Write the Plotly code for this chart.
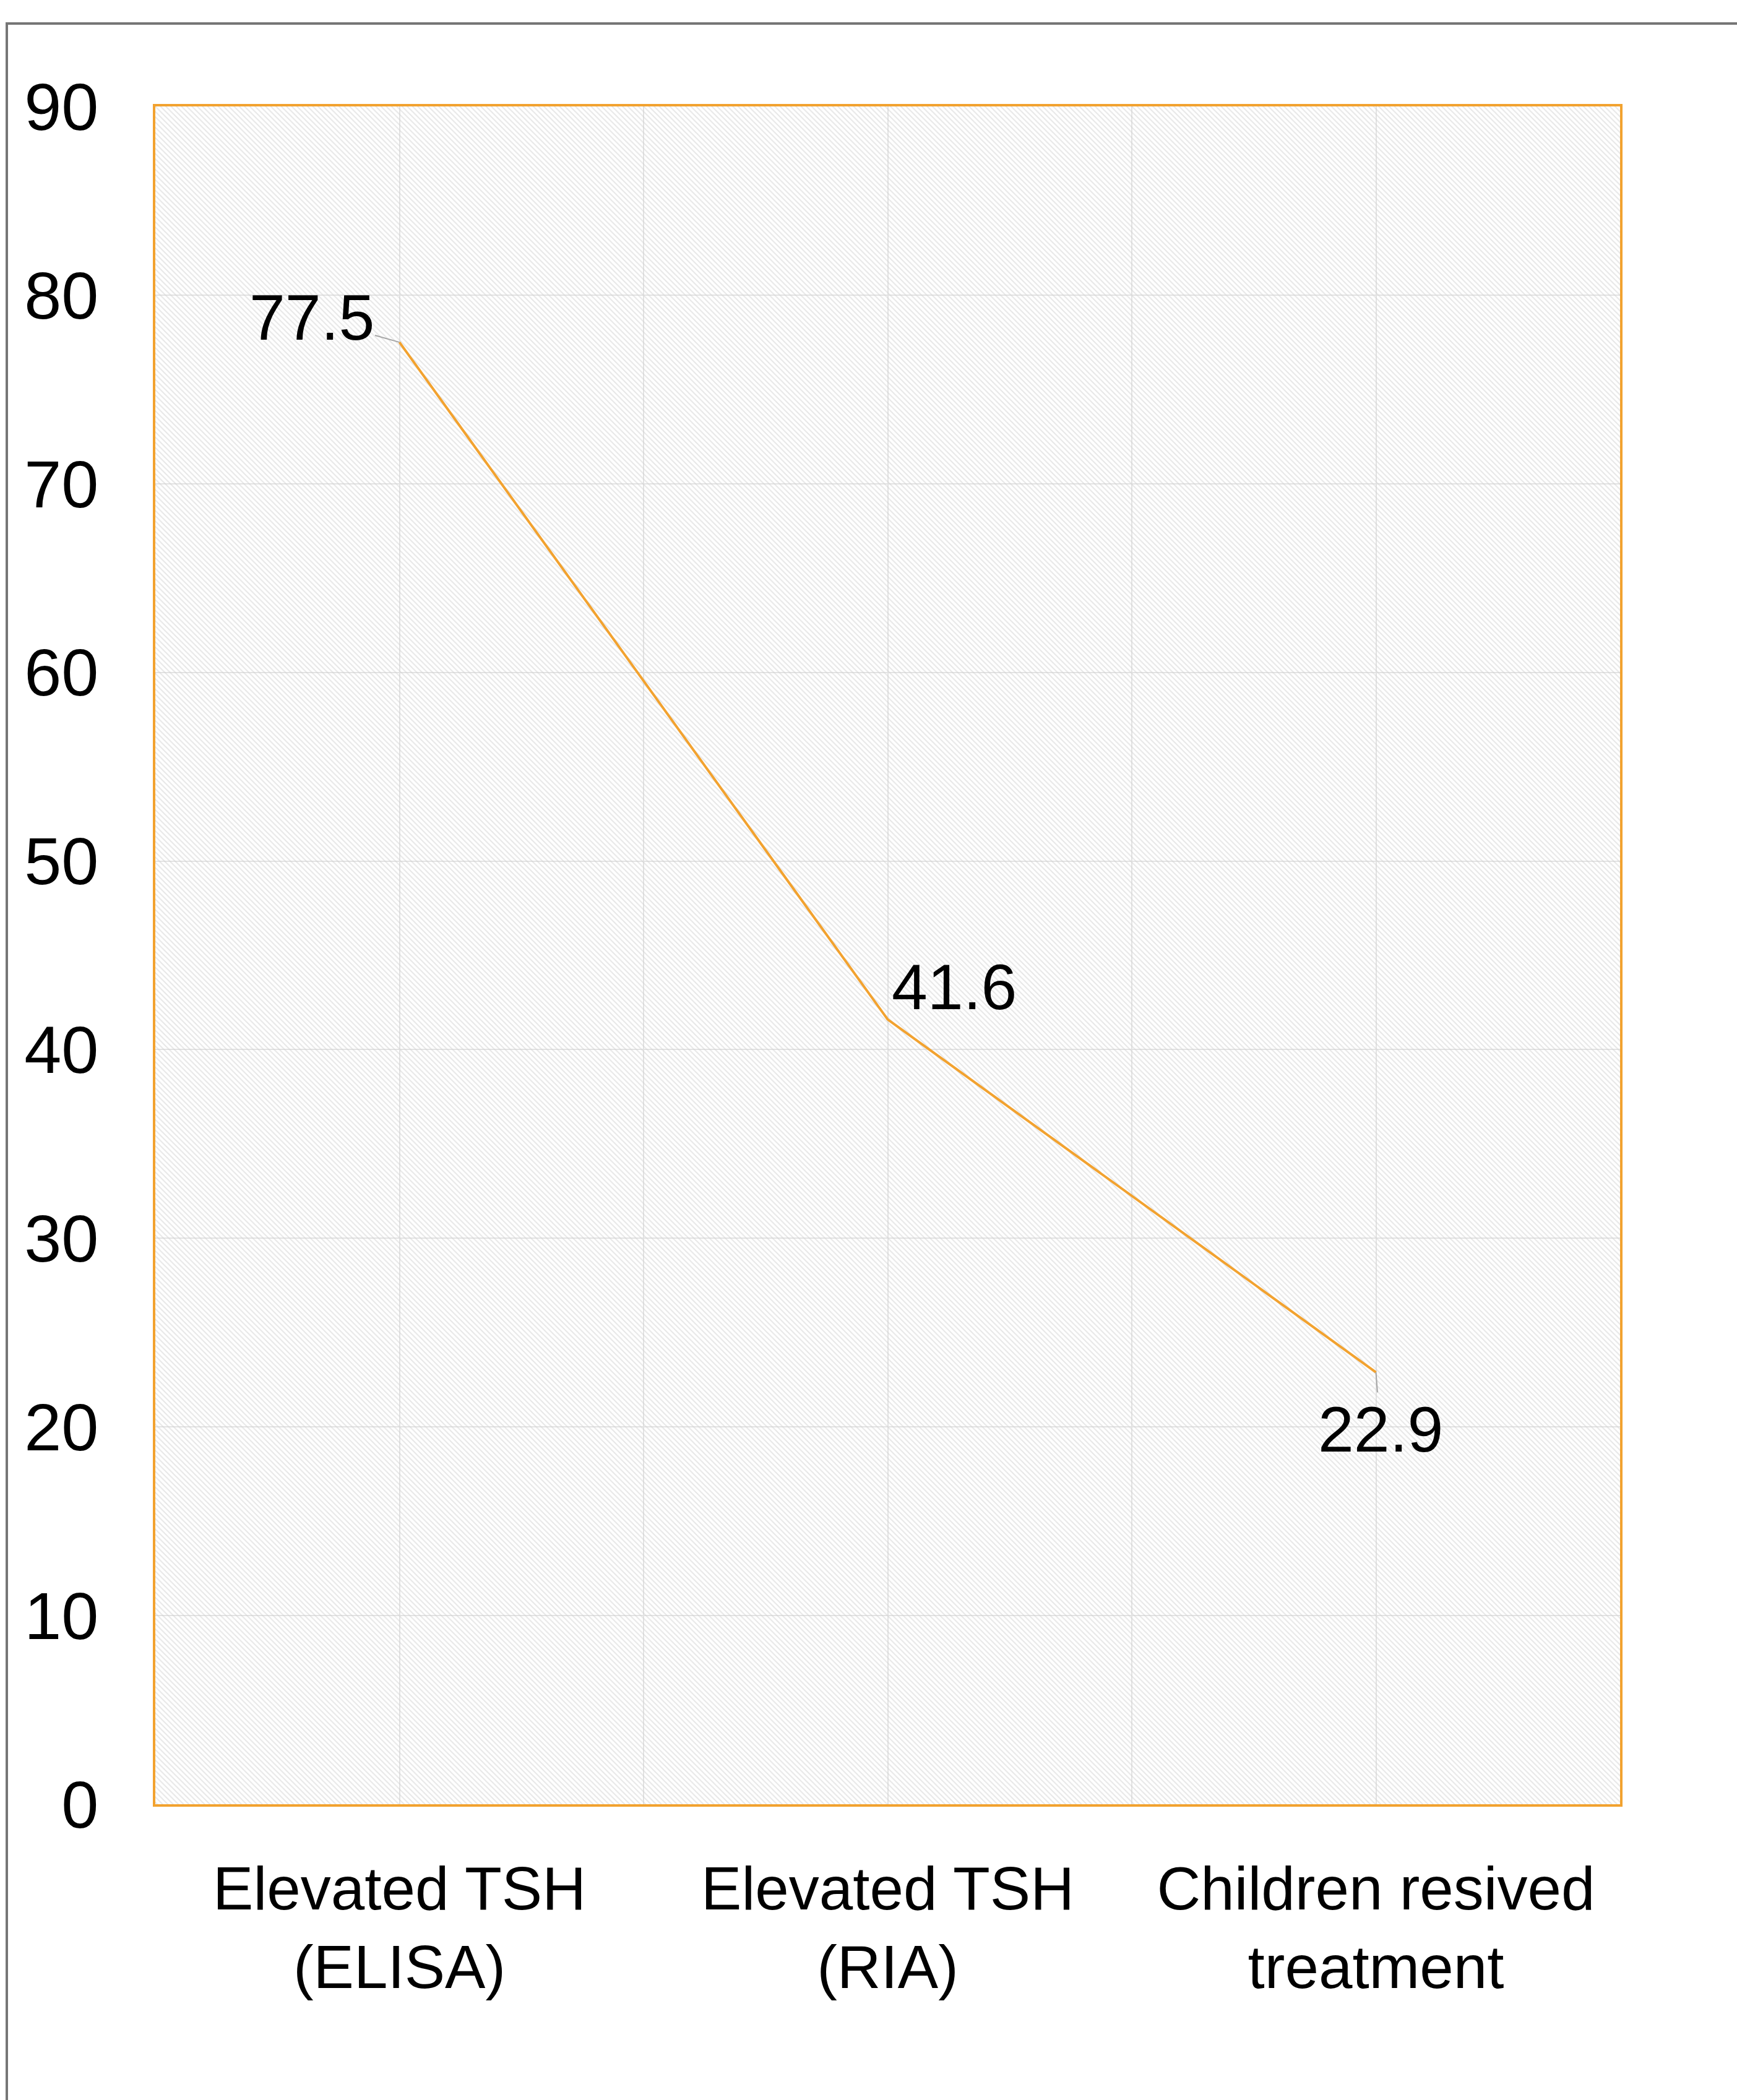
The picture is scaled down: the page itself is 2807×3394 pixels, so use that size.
import plotly.graph_objects as go

# Share of screened children at each step
categories = ["Elevated TSH<br>(ELISA)", "Elevated TSH<br>(RIA)", "Children resived<br>treatment"]
values = [77.5, 41.6, 22.9]
y_ticks = [0, 10, 20, 30, 40, 50, 60, 70, 80, 90]

# Label placement (pixel offsets from each point) and whether a leader line is drawn
label_offsets = [(-142, -40), (107, -53), (7, 92)]
label_leaders = [True, False, True]

W, H = 2807, 3394
M_L, M_R, M_T, M_B = 251, 189, 172, 478
ORANGE = "#F2A22F"
FONT = "Liberation Sans, Arial, sans-serif"

x_idx = list(range(len(categories)))
x_lo, x_hi = -0.5, len(categories) - 0.5
y_lo, y_hi = y_ticks[0], y_ticks[-1]

fig = go.Figure()

# Hatched plot-area background
fig.add_trace(go.Scatter(
    x=[x_lo, x_hi, x_hi, x_lo, x_lo],
    y=[y_lo, y_lo, y_hi, y_hi, y_lo],
    mode="lines", line=dict(width=0),
    fill="toself", fillcolor="rgba(0,0,0,0)",
    fillpattern=dict(shape="\\", size=6, solidity=0.35,
                     fgcolor="#cfcfcf", bgcolor="rgba(0,0,0,0)"),
    hoverinfo="skip", showlegend=False,
))

# Main series
fig.add_trace(go.Scatter(
    x=x_idx, y=values, mode="lines",
    line=dict(color=ORANGE, width=4),
    showlegend=False,
))

for i, v in enumerate(values):
    dx, dy = label_offsets[i]
    if label_leaders[i]:
        fig.add_annotation(
            x=x_idx[i], y=v, text=f"{v:g}", showarrow=True,
            ax=dx, ay=dy, arrowhead=0, arrowwidth=2, arrowcolor="#a6a6a6",
            standoff=0, font=dict(family=FONT, size=104, color="black"),
        )
    else:
        fig.add_annotation(
            x=x_idx[i], y=v, text=f"{v:g}", showarrow=False,
            xshift=dx, yshift=-dy,
            font=dict(family=FONT, size=104, color="black"),
        )

# Outer chart frame (only its top and left edges fall inside the page)
pw = W - M_L - M_R
ph = H - M_T - M_B
fig.add_shape(
    type="rect", xref="paper", yref="paper",
    x0=(11 - M_L) / pw, x1=1.5,
    y0=-0.5, y1=(H - M_B - 38) / ph,
    line=dict(color="#767676", width=4), fillcolor="rgba(0,0,0,0)",
    layer="below",
)

fig.update_layout(
    width=W, height=H,
    margin=dict(l=M_L, r=M_R, t=M_T, b=M_B, pad=0),
    paper_bgcolor="white", plot_bgcolor="white",
    font=dict(family=FONT, color="black"),
    showlegend=False,
)

fig.update_xaxes(
    range=[x_lo, x_hi],
    tickmode="array", tickvals=x_idx, ticktext=categories,
    tickfont=dict(family=FONT, size=98, color="black"),
    ticks="outside", ticklen=48, tickcolor="rgba(0,0,0,0)",
    showgrid=True, gridcolor="#e3e3e3", gridwidth=2,
    minor=dict(tick0=0.5, dtick=1, showgrid=True, gridcolor="#e3e3e3", gridwidth=2, ticks=""),
    showline=True, mirror=True, linecolor=ORANGE, linewidth=4,
    zeroline=False,
)

fig.update_yaxes(
    range=[y_lo, y_hi],
    tickmode="array", tickvals=y_ticks,
    tickfont=dict(family=FONT, size=108, color="black"),
    ticks="outside", ticklen=66, tickcolor="rgba(0,0,0,0)",
    showgrid=True, gridcolor="#e3e3e3", gridwidth=2,
    showline=True, mirror=True, linecolor=ORANGE, linewidth=4,
    zeroline=False,
)

fig.write_html("out.html")
